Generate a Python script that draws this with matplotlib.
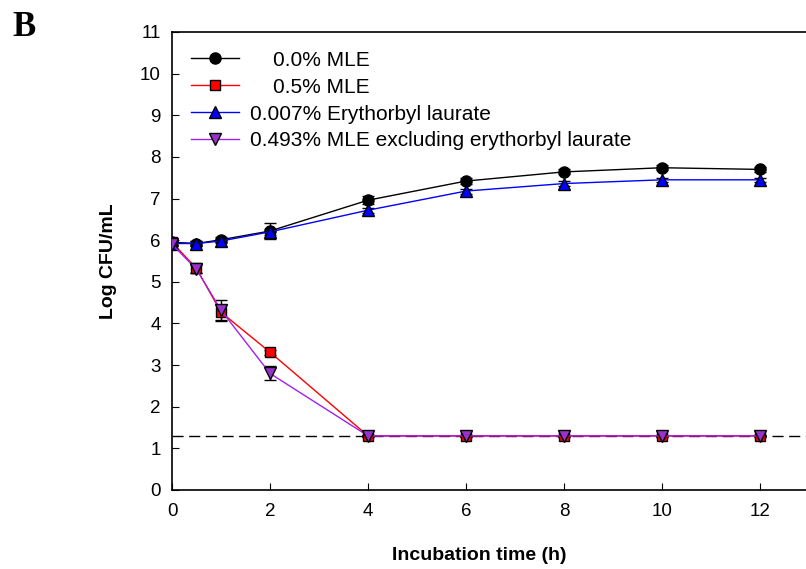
import matplotlib
matplotlib.use("Agg")
import matplotlib.pyplot as plt

plt.rcParams['font.family'] = ['Liberation Sans', 'DejaVu Sans']

# Incubation time (h)
time = [0, 0.5, 1, 2, 4, 6, 8, 10, 12]

# Log CFU/mL per treatment, with error bars
mle_0 = [5.95, 5.92, 6.01, 6.22, 6.96, 7.42, 7.64, 7.74, 7.70]
mle_0_err = [0.06, 0.06, 0.06, 0.20, 0.10, 0.08, 0.06, 0.06, 0.06]

mle_05 = [5.95, 5.32, 4.27, 3.31, 1.30, 1.30, 1.30, 1.30, 1.30]
mle_05_err = [0.06, 0.10, 0.18, 0.06, 0.03, 0.03, 0.03, 0.03, 0.03]

ery = [5.92, 5.92, 5.98, 6.20, 6.72, 7.18, 7.36, 7.45, 7.45]
ery_err = [0.05, 0.05, 0.05, 0.08, 0.06, 0.06, 0.06, 0.05, 0.05]

mle_excl = [5.90, 5.30, 4.32, 2.80, 1.30, 1.30, 1.30, 1.30, 1.30]
mle_excl_err = [0.05, 0.10, 0.25, 0.17, 0.03, 0.03, 0.03, 0.03, 0.03]

detection_limit = 1.3

labels = ["    0.0% MLE", "    0.5% MLE",
          "0.007% Erythorbyl laurate",
          "0.493% MLE excluding erythorbyl laurate"]

fig = plt.figure(figsize=(8.06, 5.69), dpi=100)
ax = fig.add_axes([172 / 806, 1 - 490 / 569, 1 - 172 / 806, (490 - 32) / 569])

ax.axhline(detection_limit, color="black", lw=1, ls=(0, (8, 4)), zorder=1)

series = [
    (mle_0, mle_0_err, "black", "black", "o", 8),
    (mle_05, mle_05_err, "red", "red", "s", 7),
    (ery, ery_err, "blue", "blue", "^", 8),
    (mle_excl, mle_excl_err, "#a020f0", "#9932cc", "v", 8),
]
handles = []
for (vals, err, lc, fc, mk, ms), lab in zip(series, labels):
    eb = ax.errorbar(time, vals, yerr=err, color=lc, lw=1, marker=mk, ms=ms,
                     mfc=fc, mec="black", mew=1, ecolor="black", elinewidth=1,
                     capsize=4.5, capthick=1, label=lab, zorder=3)
    handles.append(eb[0])

ax.set_xlim(0, 12.94)
ax.set_ylim(0, 11)
ax.set_xticks(range(0, 13, 2))
ax.set_yticks(range(0, 12))
ax.tick_params(direction="in", length=5, labelsize=13.5)
ax.tick_params(axis="y", pad=8)
ax.tick_params(axis="x", pad=9)
ax.spines["right"].set_visible(False)
for s in ["left", "bottom", "top"]:
    ax.spines[s].set_linewidth(1.2)

ax.set_xlabel("Incubation time (h)", fontsize=14, fontweight="bold")
ax.xaxis.set_label_coords(0.485, -0.125)
ax.set_ylabel("Log CFU/mL", fontsize=14, fontweight="bold")
ax.yaxis.set_label_coords(-0.087, 0.5)

ax.legend(handles, labels, loc="upper left", frameon=False,
          fontsize=15, handlelength=2.3, labelspacing=0.38,
          borderaxespad=0.5, borderpad=0.4, handletextpad=0.55)

fig.text(12 / 806, 1 - 27 / 569, "B", family=["Liberation Serif", "DejaVu Serif"],
         fontsize=25, fontweight="bold", va="center", ha="left")

fig.savefig("out.png", dpi=100)
